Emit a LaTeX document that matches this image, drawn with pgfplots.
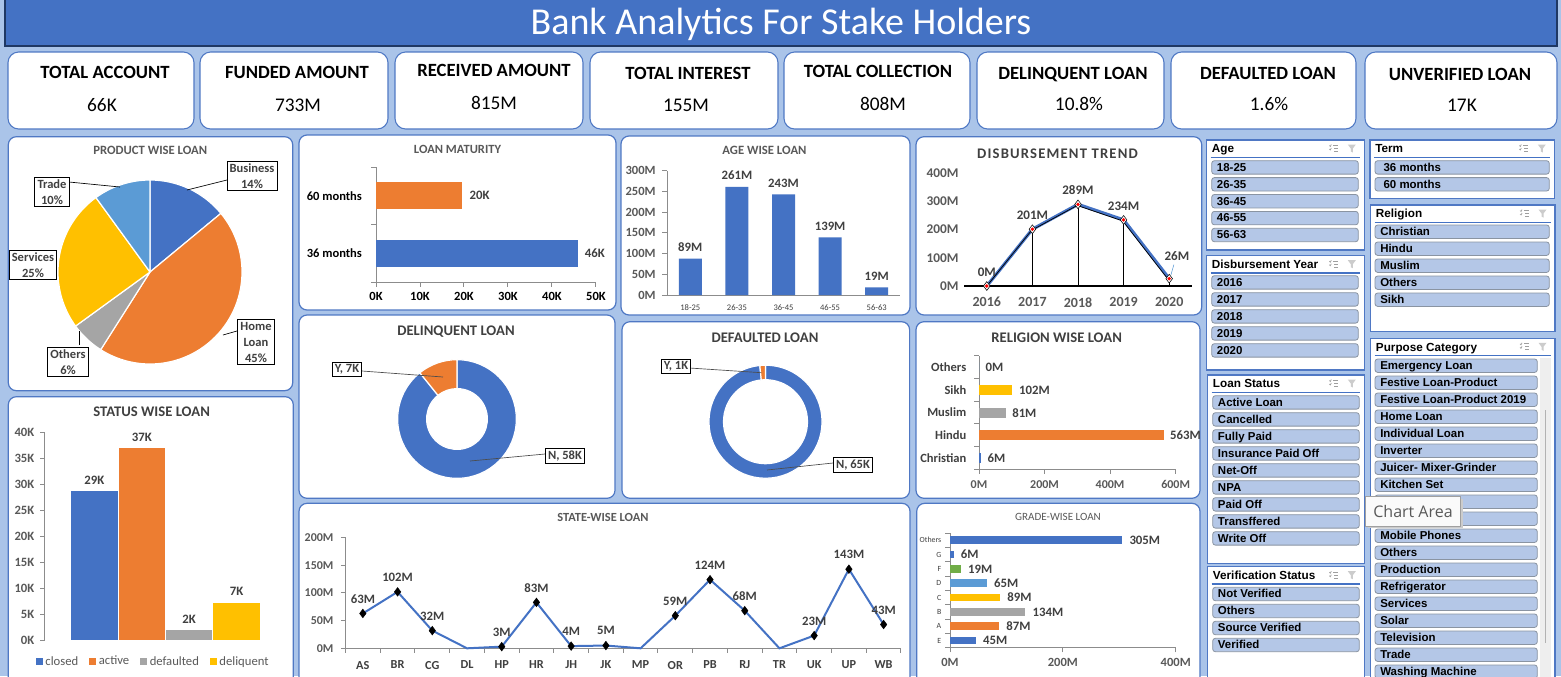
\documentclass[border=0pt]{standalone}
\usepackage{fontspec}
\setmainfont{Carlito}
\newfontfamily\slf{Liberation Sans}
\newfontfamily\tipf{Open Sans}
\newfontfamily\spf{Carlito}[LetterSpace=8.0]
\usepackage{pgfplots}
\pgfplotsset{compat=1.18}

\definecolor{bg}{RGB}{170,196,233}
\definecolor{navy}{RGB}{31,56,100}
\definecolor{cBlue}{RGB}{68,114,196}
\definecolor{cOrange}{RGB}{237,125,49}
\definecolor{cGray}{RGB}{165,165,165}
\definecolor{cYellow}{RGB}{255,192,0}
\definecolor{cLBlue}{RGB}{91,155,213}
\definecolor{cGreen}{RGB}{112,173,71}
\definecolor{ttl}{RGB}{64,64,64}
\definecolor{lbl}{RGB}{89,89,89}
\definecolor{axg}{RGB}{140,140,140}
\definecolor{btn}{RGB}{180,199,231}
\definecolor{btnb}{RGB}{138,148,162}
\definecolor{pnl}{RGB}{79,120,196}
\definecolor{tipbg}{RGB}{250,250,250}
\definecolor{tipbd}{RGB}{160,160,160}
\definecolor{scr}{RGB}{238,238,238}

\newcommand\fs[1]{\fontsize{#1}{#1}\selectfont}
\newcommand\fsl[2]{\fontsize{#1}{#2}\selectfont}

\pgfplotsset{
  db/.style={scale only axis, clip=false, scaled ticks=false, anchor=south west,
    axis line style={draw=axg, line width=0.75pt, -},
    tick style={draw=axg, line width=0.75pt},
    tick align=outside, major tick length=0pt, minor tick length=3.5pt,
    xticklabel shift=5pt, yticklabel shift=4.5pt,
    tick label style={font=\fs{9}\bfseries, text=lbl},
    /pgf/number format/assume math mode=true},
  sqleg/.style={legend image code/.code={\fill[##1,/tikz/.cd] (0pt,-2.7pt) rectangle (5.4pt,2.7pt);}},
  lab/.style={point meta=explicit symbolic, nodes near coords,
    every node near coord/.append style={font=\fs{9.6}\bfseries, text=ttl}},
}

\newcommand\slice[4]{\fill[#3, draw=white, line width=0.9pt, line join=round] (axis cs:0,0) -- ++({#1}:#4) arc[start angle={#1}, end angle={#2}, radius=#4] -- cycle;}
\newcommand\ring[5]{\fill[#3, draw=white, line width=0.9pt, line join=round] (axis cs:0,0) ++({#1}:#4) arc[start angle={#1}, end angle={#2}, radius=#4] -- ++({#2+180}:{#4-#5}) arc[start angle={#2}, end angle={#1}, radius=#5] -- cycle;}
\newcommand\panel[4]{\draw[pnl, line width=0.9pt, fill=white, rounded corners=6pt] (#1,#2) rectangle (#3,#4);}

\newcommand\slicer[5]{%
  \fill[white] (#1,#2) rectangle (#3,#4);
  \draw[pnl, line width=0.8pt] (#1,#2) rectangle (#3,#4);
  \node[anchor=base west, inner sep=0pt, font=\slf\bfseries\fs{8.8}] at (#1+5,#2+12.7) {#5};
  \draw[cBlue, line width=0.8pt] (#1+4,#2+17.3) -- (#3-4,#2+17.3);
  \begin{scope}[shift={(#3-31,#2+8.5)}]
    \draw[gray!75, line width=0.5pt] (0,-3)--(5,-3) (1,0)--(5,0) (1,3)--(5,3);
    \draw[gray!75, line width=0.5pt] (-4,-3)--(-3,-2)--(-2,-4) (-4,0.5)--(-3,1.5)--(-2,-0.5);
  \end{scope}
  \begin{scope}[shift={(#3-12.5,#2+8.5)}]
    \fill[gray!40] (-4,-4)--(4,-4)--(1,0)--(1,4)--(-1,3)--(-1,0)--cycle;
  \end{scope}
}
\newcommand\sitem[4]{%
  \draw[fill=btn, draw=btnb, line width=0.6pt, rounded corners=2pt] (#1,#3) rectangle (#2,#3+13.4);
  \node[anchor=base west, inner sep=0pt, font=\slf\bfseries\fs{8.6}] at (#1+5,#3+10.5) {#4};}

\begin{document}
\begin{tikzpicture}[x=0.75pt,y=-0.75pt]
\useasboundingbox (0,0) rectangle (1561,676);
\clip (0,0) rectangle (1561,676);
\fill[bg] (0,0) rectangle (1561,676);

% anchor points for the axes (pixel coordinates)
\coordinate (Ppie) at (150,272);
\coordinate (Pstat) at (45,640);
\coordinate (Pmat) at (376,282);
\coordinate (Page) at (667,295);
\coordinate (Pdis) at (964,286);
\coordinate (Pdel) at (457,419);
\coordinate (Pdef) at (765.5,421.7);
\coordinate (Prel) at (979,469.3);
\coordinate (Psta) at (345.5,648.3);
\coordinate (Pgra) at (950,647.7);

% ---------- title bar
\fill[cBlue] (5,-3) rectangle (1557,46);
\draw[navy, line width=1.2pt] (5,-3) -- (5,46) -- (1557,46) -- (1557,-3);
\node[anchor=base, font=\fs{28.5}, text=white] at (781,34.5) {Bank Analytics For Stake Holders};

% ---------- KPI cards
\tikzset{kcard/.style={draw=pnl, line width=0.8pt, fill=white, rounded corners=8pt}}
\draw[kcard] (8,52) rectangle (194,129);
\draw[kcard] (200,52) rectangle (388,129);
\draw[kcard] (395,52) rectangle (583,129);
\draw[kcard] (590,52) rectangle (778,129);
\draw[kcard] (784,52) rectangle (970,129);
\draw[kcard] (977,52) rectangle (1164,129);
\draw[kcard] (1171,52) rectangle (1356,129);
\draw[kcard] (1365,52) rectangle (1557,129);
\tikzset{klab/.style={anchor=base, font=\fs{14}\bfseries, text=black}, kval/.style={anchor=base, font=\fs{14.5}, text=black}}
\node[klab] at (105,78) {TOTAL ACCOUNT};
\node[klab] at (297,78) {FUNDED AMOUNT};
\node[klab] at (494,76.5) {RECEIVED AMOUNT};
\node[klab] at (688,79) {TOTAL INTEREST};
\node[klab] at (878,77) {TOTAL COLLECTION};
\node[klab] at (1073,79) {DELINQUENT LOAN};
\node[klab] at (1268,79) {DEFAULTED LOAN};
\node[klab] at (1460,80) {UNVERIFIED LOAN};
\node[kval] at (102,111) {66K};
\node[kval] at (298,111) {733M};
\node[kval] at (494,109.5) {815M};
\node[kval] at (686,111) {155M};
\node[kval] at (883,110) {808M};
\node[kval] at (1079,110) {10.8\%};
\node[kval] at (1269,110) {1.6\%};
\node[kval] at (1462,111) {17K};

% ---------- panels
\panel{8.3}{136.7}{292.7}{390.7}
\panel{8.3}{396.7}{293.3}{700}
\panel{299}{135}{616}{310}
\panel{621}{136}{910}{315}
\panel{916}{136.7}{1201.7}{315}
\panel{299}{315}{615}{498.3}
\panel{622}{321.7}{909.6}{498.3}
\panel{916}{321.7}{1200}{498.3}
\panel{299}{503.3}{910}{700}
\panel{916.7}{503.3}{1200}{700}

% ---------- panel titles
\node[font=\fs{9.5}\bfseries, text=lbl] at (150.3,150) {PRODUCT WISE LOAN};
\node[font=\fs{11}\bfseries, text=ttl] at (151.7,411.7) {STATUS WISE LOAN};
\node[font=\fs{9.4}\bfseries, text=lbl] at (457.5,149) {LOAN MATURITY};
\node[font=\fs{9.5}\bfseries, text=lbl] at (764.5,150) {AGE WISE LOAN};
\node[font=\spf\fs{11}\bfseries, text=ttl] at (1057.5,153.3) {DISBURSEMENT TREND};
\node[font=\fs{11}\bfseries, text=ttl] at (456,332) {DELINQUENT LOAN};
\node[font=\fs{11}\bfseries, text=ttl] at (765,337.3) {DEFAULTED LOAN};
\node[font=\fs{11}\bfseries, text=ttl] at (1056.7,337.3) {RELIGION WISE LOAN};
\node[font=\fs{9.3}\bfseries, text=lbl] at (603,517.7) {STATE-WISE LOAN};
\node[font=\fs{8.3}, text=lbl] at (1058,516.7) {GRADE-WISE LOAN};

% ---------- product pie
\begin{axis}[hide axis, scale only axis, width=138pt, height=138pt, xmin=-1, xmax=1, ymin=-1, ymax=1, at={(Ppie)}, anchor=center, clip=false]
\addplot[draw=none] coordinates {(0,0)};
\slice{90}{90-3.6*14}{cBlue}{69pt}
\slice{90-3.6*14}{90-3.6*(14+45)}{cOrange}{69pt}
\slice{90-3.6*(14+45)}{90-3.6*(14+45+6)}{cGray}{69pt}
\slice{90-3.6*(14+45+6)}{90-3.6*(14+45+6+25)}{cYellow}{69pt}
\slice{90-3.6*(14+45+6+25)}{90-3.6*(14+45+6+25+10)}{cLBlue}{69pt}
\end{axis}
\tikzset{lb/.style={draw=black, line width=0.6pt, fill=white, align=center, inner xsep=2pt, inner ysep=1.5pt, font=\fsl{9.4}{12}\bfseries, text=ttl}}
\draw[black, line width=0.5pt] (227,180) -- (187,190);
\draw[black, line width=0.5pt] (69,182) -- (120,187);
\draw[black, line width=0.5pt] (79,345) -- (79,331);
\draw[black, line width=0.5pt] (237,331) -- (223,335);
\node[lb] at (252,176) {Business\\14\%};
\node[lb] at (52,192) {Trade\\10\%};
\node[lb] at (33,265) {Services\\25\%};
\node[lb] at (68,362) {Others\\6\%};
\node[lb] at (256,342) {Home\\Loan\\45\%};

% ---------- status wise
\begin{axis}[db, at={(Pstat)}, width=180.75pt, height=155.8pt,
  xmin=-1.04, xmax=4.04, ymin=0, ymax=40000,
  axis lines*=left, x axis line style={draw=none}, xtick=\empty,
  ytick={0,5000,...,40000}, minor ytick={0,5000,...,40000},
  yticklabels={0K,5K,10K,15K,20K,25K,30K,35K,40K},
  y tick label style={font=\fs{9.5}\bfseries},
  ybar, bar shift=0pt, bar width=34.8pt,
  lab, every node near coord/.append style={anchor=center, yshift=8.3pt},
  legend columns=4,
  legend style={at={(0.45,-0.104)}, anchor=center, draw=none, fill=none, font=\fs{9.5}, text=lbl,
    /tikz/every even column/.append style={column sep=6pt}}]
\addplot[fill=cBlue, draw=none, sqleg] coordinates {(0,28600)[29K]};
\addplot[fill=cOrange, draw=none, sqleg] coordinates {(1,36900)[37K]};
\addplot[fill=cGray, draw=none, sqleg] coordinates {(2,1900)[2K]};
\addplot[fill=cYellow, draw=none, sqleg] coordinates {(3,7200)[7K]};
\legend{closed,active,defaulted,deliquent}
\end{axis}

% ---------- loan maturity
\begin{axis}[db, at={(Pmat)}, width=165pt, height=86.25pt,
  xmin=0, xmax=50000, ymin=-0.5, ymax=1.5, axis lines*=left,
  xbar, bar shift=0pt, bar width=20.25pt, yticklabel shift=7pt, xticklabel shift=4.5pt,
  xtick={0,10000,...,50000}, minor xtick={0,10000,...,50000}, xticklabels={0K,10K,20K,30K,40K,50K},
  ytick={0,1}, yticklabels={36 months,60 months}, minor ytick={-0.5,0.5,1.5},
  y tick label style={font=\fs{9.4}\bfseries, text=black},
  x tick label style={font=\fs{9.4}\bfseries, text=black},
  lab, every node near coord/.append style={anchor=west, xshift=2pt}]
\addplot[fill=cBlue, draw=none] coordinates {(45800,0)[46K]};
\addplot[fill=cOrange, draw=none] coordinates {(19600,1)[20K]};
\end{axis}

% ---------- age wise
\begin{axis}[db, at={(Page)}, width=174.75pt, height=93.2pt,
  xmin=-0.5, xmax=4.5, ymin=0, ymax=300, axis lines*=left,
  ybar, bar shift=0pt, bar width=17.25pt, xticklabel shift=4pt, yticklabel shift=5pt,
  xtick={0,1,2,3,4}, xticklabels={18-25,26-35,36-45,46-55,56-63},
  x tick label style={font=\fs{6.4}, text=ttl},
  ytick={0,50,...,300}, minor ytick={0,50,...,300}, yticklabels={0M,50M,100M,150M,200M,250M,300M},
  y tick label style={font=\fs{9.4}\bfseries},
  lab, every node near coord/.append style={anchor=center, yshift=8.6pt}]
\addplot[fill=cBlue, draw=none] coordinates {(0,88)[89M] (1,261)[261M] (2,243)[243M] (3,139)[139M] (4,18.5)[19M]};
\end{axis}

% ---------- disbursement trend (x = 0..4 for 2016..2020)
\begin{axis}[db, at={(Pdis)}, width=171pt, height=84.75pt,
  xmin=-0.5, xmax=4.5, ymin=0, ymax=400, axis lines*=left,
  yticklabel shift=0.5pt, xticklabel shift=5pt,
  y axis line style={draw=none}, x axis line style={draw=black, line width=0.9pt},
  xtick={0,1,2,3,4}, xticklabels={2016,2017,2018,2019,2020},
  ytick={0,100,200,300,400}, yticklabels={0M,100M,200M,300M,400M},
  x tick label style={font=\fs{10.5}\bfseries}, y tick label style={font=\fs{10}\bfseries}]
\addplot[ycomb, black, line width=0.6pt] coordinates {(0,0) (1,201) (2,289) (3,234) (4,26)};
\addplot[cBlue, line width=2.4pt] coordinates {(0,0) (1,201) (2,289) (3,234) (4,26)};
\addplot[black, line width=0.55pt, xshift=-0.6pt, yshift=-0.8pt] coordinates {(0,0) (1,201) (2,289) (3,234) (4,26)};
\addplot[only marks, mark=diamond*, mark size=3.3pt, mark options={fill=white, draw=black, line width=0.4pt}] coordinates {(0,0) (1,201) (2,289) (3,234) (4,26)};
\addplot[only marks, mark=*, mark size=1.1pt, red] coordinates {(0,0) (1,201) (2,289) (3,234) (4,26)};
\addplot[draw=none, lab, every node near coord/.append style={anchor=center, yshift=10.5pt, font=\fs{9.8}\bfseries}] coordinates {(0,0)[0M] (1,201)[201M] (2,289)[289M] (3,234)[234M]};
\draw[cLBlue, line width=0.4pt] (axis cs:4,26) ++(1.2pt,2.5pt) -- ++(2.3pt,8pt);
\node[font=\fs{9.8}\bfseries, text=ttl, xshift=5.8pt, yshift=17.3pt] at (axis cs:4,26) {26M};
\end{axis}

% ---------- delinquent donut
\begin{axis}[hide axis, scale only axis, width=89pt, height=89pt, xmin=-1, xmax=1, ymin=-1, ymax=1, at={(Pdel)}, anchor=center, clip=false]
\addplot[draw=none] coordinates {(0,0)};
\ring{90}{90-360/65*58}{cBlue}{44.5pt}{22.8pt}
\ring{90-360/65*58}{90-360/65*(58+7)}{cOrange}{44.5pt}{22.8pt}
\end{axis}
\draw[black!70, line width=0.5pt] (362,371) -- (443,377);
\draw[black!70, line width=0.5pt] (545,454) -- (470,461);
\node[lb] at (347,369.5) {Y, 7K};
\node[lb] at (565,456) {N, 58K};

% ---------- defaulted donut
\begin{axis}[hide axis, scale only axis, width=84.8pt, height=84.8pt, xmin=-1, xmax=1, ymin=-1, ymax=1, at={(Pdef)}, anchor=center, clip=false]
\addplot[draw=none] coordinates {(0,0)};
\ring{90}{90-360/66.06*65}{cBlue}{42.4pt}{31.5pt}
\ring{90-360/66.06*65}{90-360/66.06*(65+1.06)}{cOrange}{42.4pt}{31.5pt}
\end{axis}
\draw[black!70, line width=0.5pt] (689.5,368) -- (761.4,372.7);
\draw[black!70, line width=0.5pt] (833,463) -- (767,470);
\node[lb] at (676,366.7) {Y, 1K};
\node[lb] at (853,465) {N, 65K};

% ---------- religion wise
\begin{axis}[db, at={(Prel)}, width=147.5pt, height=85pt,
  xmin=0, xmax=600, ymin=-0.5, ymax=4.5, axis lines*=left,
  xbar, bar shift=0pt, bar width=7.5pt, yticklabel shift=6pt,
  xtick={0,200,400,600}, minor xtick={0,200,400,600}, xticklabels={0M,200M,400M,600M},
  ytick={0,1,2,3,4}, yticklabels={Christian,Hindu,Muslim,Sikh,Others}, minor ytick={-0.5,0.5,...,4.5},
  y tick label style={font=\fs{9.4}\bfseries, text=ttl},
  lab, every node near coord/.append style={anchor=west, xshift=1.5pt}]
\addplot[fill=cBlue, draw=none] coordinates {(6,0)[6M]};
\addplot[fill=cOrange, draw=none] coordinates {(563,1)[563M]};
\addplot[fill=cGray, draw=none] coordinates {(81,2)[81M]};
\addplot[fill=cYellow, draw=none] coordinates {(102,3)[102M]};
\addplot[fill=cLBlue, draw=none] coordinates {(0,4)[0M]};
\end{axis}

% ---------- state wise
\begin{axis}[db, at={(Psta)}, width=416.6pt, height=83pt,
  xmin=-0.5, xmax=15.5, ymin=0, ymax=200, axis lines*=left,
  xticklabel shift=6pt, yticklabel shift=5.5pt,
  xtick={0,...,15}, xticklabels={AS,BR,CG,DL,HP,HR,JH,JK,MP,OR,PB,RJ,TR,UK,UP,WB},
  minor xtick={-0.5,0.5,...,15.5},
  x tick label style={font=\fs{9.2}\bfseries, text=ttl},
  ytick={0,50,...,200}, minor ytick={0,50,...,200}, yticklabels={0M,50M,100M,150M,200M}]
\addplot[cBlue, line width=1.5pt] coordinates {(0,63) (1,102) (2,32) (3,0) (4,3) (5,83) (6,4) (7,5) (8,0) (9,59) (10,124) (11,68) (12,0) (13,23) (14,143) (15,43)};
\addplot[only marks, mark=diamond*, mark size=3.2pt, black, lab, every node near coord/.append style={anchor=center, yshift=11pt}] coordinates {(0,63)[63M] (1,102)[102M] (2,32)[32M] (4,3)[3M] (5,83)[83M] (6,4)[4M] (7,5)[5M] (9,59)[59M] (10,124)[124M] (11,68)[68M] (13,23)[23M] (14,143)[143M] (15,43)[43M]};
\end{axis}

% ---------- grade wise
\begin{axis}[db, at={(Pgra)}, width=169.3pt, height=86pt,
  xmin=0, xmax=400, ymin=-0.5, ymax=7.5, axis lines*=left,
  xbar, bar shift=0pt, bar width=5.8pt, yticklabel shift=3pt, xticklabel shift=4.5pt,
  xtick={0,200,400}, minor xtick={0,200,400}, xticklabels={0M,200M,400M},
  x tick label style={font=\fs{9.4}\bfseries},
  ytick={0,...,7}, yticklabels={E,A,B,C,D,F,G,Others}, minor ytick={-0.5,0.5,...,7.5},
  y tick label style={font=\fs{5.9}, text=ttl},
  lab, every node near coord/.append style={anchor=west, xshift=2pt}]
\addplot[fill=cBlue, draw=none] coordinates {(45.5,0)[45M]};
\addplot[fill=cOrange, draw=none] coordinates {(87,1)[87M]};
\addplot[fill=cGray, draw=none] coordinates {(133.5,2)[134M]};
\addplot[fill=cYellow, draw=none] coordinates {(88.7,3)[89M]};
\addplot[fill=cLBlue, draw=none] coordinates {(65,4)[65M]};
\addplot[fill=cGreen, draw=none] coordinates {(19,5)[19M]};
\addplot[fill=cBlue, draw=none] coordinates {(6.3,6)[6M]};
\addplot[fill=cBlue, draw=none] coordinates {(305,7)[305M]};
\end{axis}

% ---------- slicers
\slicer{1206.7}{140}{1364.3}{250}{Age}
\foreach \t [count=\i from 0] in {18-25,26-35,36-45,46-55,56-63} {\sitem{1211.7}{1358.3}{160.7+16.9*\i}{\t}}
\slicer{1206.7}{255.7}{1364.3}{370}{Disbursement Year}
\foreach \t [count=\i from 0] in {2016,2017,2018,2019,2020} {\sitem{1211.7}{1358.3}{275.7+17*\i}{\t}}
\slicer{1207.7}{375}{1364.3}{563.3}{Loan Status}
\foreach \t [count=\i from 0] in {Active Loan,Cancelled,Fully Paid,Insurance Paid Off,Net-Off,NPA,Paid Off,Transffered,Write Off} {\sitem{1212.7}{1359.3}{395.7+17*\i}{\t}}
\slicer{1207.7}{566.7}{1364.3}{690}{Verification Status}
\foreach \t [count=\i from 0] in {Not Verified,Others,Source Verified,Verified} {\sitem{1212.7}{1359.3}{587.3+17*\i}{\t}}
\slicer{1370}{140}{1554.3}{198.3}{Term}
\foreach \t [count=\i from 0] in {36 months,60 months} {\sitem{1375}{1549.3}{160.7+16.9*\i}{\hspace*{2.5pt}\t}}
\slicer{1370.7}{205}{1555}{331.7}{Religion}
\foreach \t [count=\i from 0] in {Christian,Hindu,Muslim,Others,Sikh} {\sitem{1375}{1549.3}{225+17*\i}{\t}}
\slicer{1370.7}{338.3}{1555}{700}{Purpose Category}
\fill[scr] (1539.5,357.5) rectangle (1551,700);
\draw[gray!60, line width=0.7pt] (1545.3,410) -- (1545.3,643);
\foreach \t [count=\i from 0] in {Emergency Loan,Festive Loan-Product,Festive Loan-Product 2019,Home Loan,Individual Loan,Inverter,Juicer- Mixer-Grinder,Kitchen Set,Marriage Loan,{},Mobile Phones,Others,Production,Refrigerator,Services,Solar,Television,Trade,Washing Machine} {\sitem{1375}{1537.3}{359+17*\i}{\t}}

% ---------- tooltip
\fill[black!20] (1367.5,498.5) rectangle (1462.5,528);
\filldraw[fill=tipbg, draw=tipbd, line width=0.5pt] (1365.7,496.7) rectangle (1460.7,526);
\node[font=\tipf\fs{12}, text=lbl] at (1413,511.3) {Chart Area};
\end{tikzpicture}
\end{document}
